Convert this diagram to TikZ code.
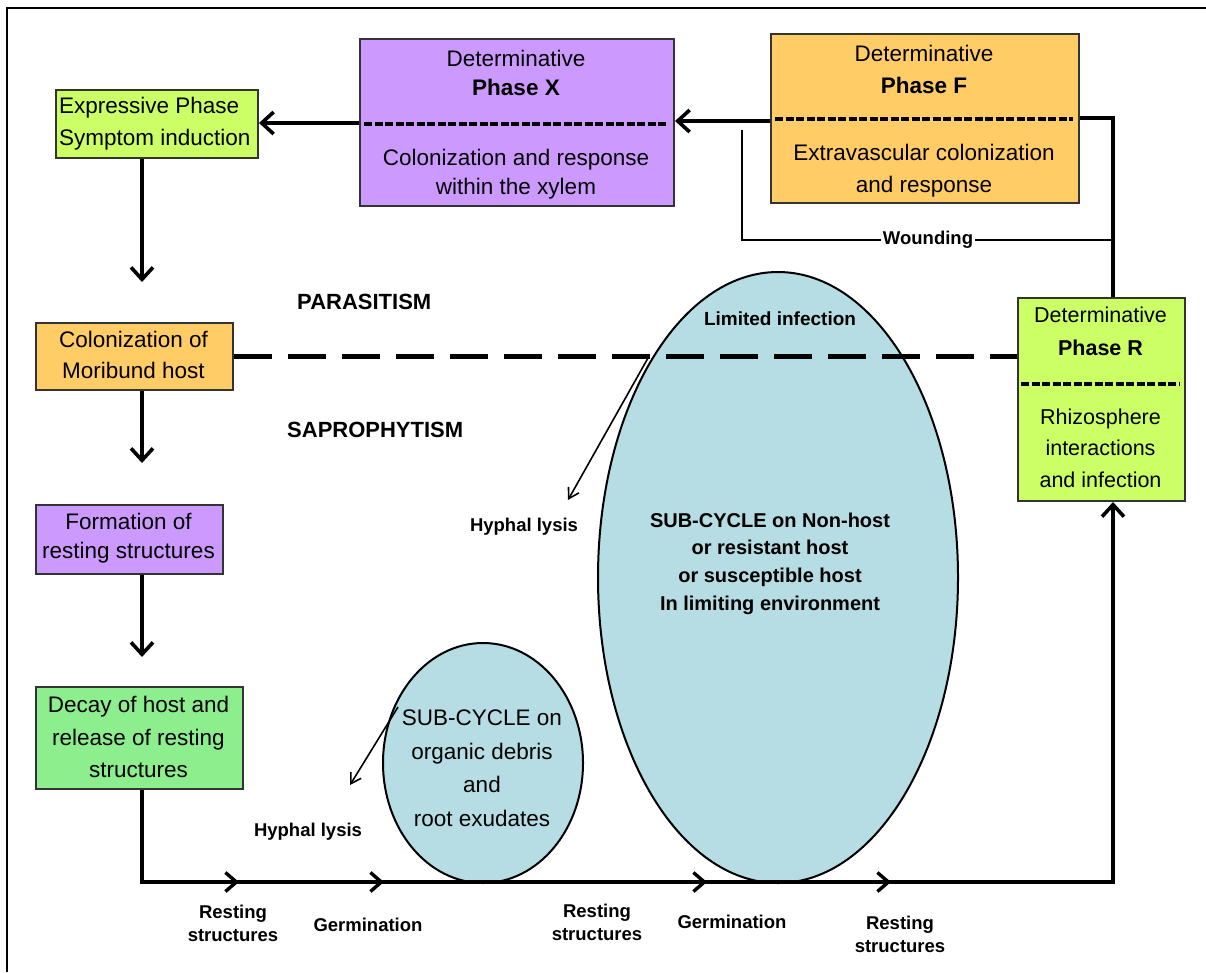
\documentclass[tikz,border=0pt]{standalone}
\usepackage{fontspec}
\setmainfont{Liberation Sans}
\usetikzlibrary{arrows.meta,shapes.geometric,decorations.markings}
\definecolor{ygreen}{HTML}{CCFF66}
\definecolor{lpurple}{HTML}{CC99FF}
\definecolor{lorange}{HTML}{FFCC66}
\definecolor{lgreen}{HTML}{8CEE8C}
\definecolor{lblue}{HTML}{B5DDE3}
\begin{document}
\begin{tikzpicture}[x=1pt,y=-1pt,
  box/.style={draw=black!80, line width=2pt, anchor=north west, inner sep=0pt},
  txt/.style={align=center, inner sep=0pt, font=\fontsize{22.5}{31}\selectfont},
  lbl/.style={align=center, inner sep=0pt, font=\bfseries\fontsize{18.5}{23.5}\selectfont},
  sep/.style={line width=3.2pt, dash pattern=on 8pt off 2.5pt},
  conn/.style={line width=3.6pt},
  arr/.style={conn, -{Straight Barb[length=12pt,width=22pt,line width=3.6pt]}},
  thinarr/.style={line width=1.6pt, -{Straight Barb[length=10pt,width=12pt,line width=1.6pt]}},
  ell/.style={ellipse, draw, line width=2pt, fill=lblue, inner sep=0pt},
  chev/.style={postaction={decorate}, decoration={markings,
     mark=at position 189pt with {\arrow{Straight Barb[length=11pt,width=19pt,line width=3.4pt]}},
     mark=at position 334pt with {\arrow{Straight Barb[length=11pt,width=19pt,line width=3.4pt]}},
     mark=at position 657pt with {\arrow{Straight Barb[length=11pt,width=19pt,line width=3.4pt]}},
     mark=at position 841pt with {\arrow{Straight Barb[length=11pt,width=19pt,line width=3.4pt]}}}},
]
\useasboundingbox (0,0) rectangle (1206,972);
\fill[white] (0,0) rectangle (1206,972);
% frame
\draw[line width=2.6pt] (7,972) -- (7,8) -- (1206,8);

% helper coordinates
\coordinate (xcol) at (142,0);
\coordinate (rx) at (1113,0);
\coordinate (base) at (0,882);
\coordinate (yFX) at (0,121);
\coordinate (yXE) at (0,123);
\coordinate (yFR) at (0,118);
\coordinate (w1) at (742,130);
\coordinate (w2) at (1113,240);

% ellipses
\node[ell, minimum width=360pt, minimum height=611pt] (bigE) at (778,577.5) {};
\node[ell, minimum width=200pt, minimum height=240pt] (smallE) at (483,763) {};

% boxes
\node[box, fill=ygreen, minimum width=202pt, minimum height=68pt] (expr) at (55,89) {};
\node[box, fill=lpurple, minimum width=314pt, minimum height=167pt] (phaseX) at (359,38) {};
\node[box, fill=lorange, minimum width=308pt, minimum height=169pt] (phaseF) at (770,33) {};
\node[box, fill=ygreen, minimum width=167pt, minimum height=203pt] (phaseR) at (1017,297) {};
\node[box, fill=lorange, minimum width=197pt, minimum height=67pt] (morib) at (35,322) {};
\node[box, fill=lpurple, minimum width=187pt, minimum height=69pt] (form) at (35,504) {};
\node[box, fill=lgreen, minimum width=207pt, minimum height=102pt] (decay) at (35,686) {};

% box texts
\node[txt, anchor=west, align=left, font=\fontsize{22.5}{32}\selectfont] (exprT) at (59,124) {Expressive Phase\\Symptom induction};
\node[txt, font=\fontsize{22.5}{29}\selectfont] (phaseXa) at (516,72.5) {Determinative\\\textbf{Phase X}};
\draw[sep] (364,124) -- (668,124);
\node[txt, font=\fontsize{22.5}{29}\selectfont] (phaseXb) at (516,174) {Colonization and response\\within the xylem};
\node[txt, font=\fontsize{22.5}{32}\selectfont] (phaseFa) at (924,69) {Determinative\\\textbf{Phase F}};
\draw[sep] (775,119) -- (1073,119);
\node[txt, font=\fontsize{22.5}{32}\selectfont] (phaseFb) at (924,171) {Extravascular colonization\\and response};
\node[txt, font=\fontsize{21.5}{33}\selectfont] (phaseRa) at (1100.5,331.5) {Determinative\\\textbf{Phase R}};
\draw[sep] (1021,384) -- (1180,384);
\node[txt, font=\fontsize{21.5}{31.5}\selectfont] (phaseRb) at (1100.5,448) {Rhizosphere\\interactions\\and infection};
\node[txt, font=\fontsize{22.5}{31}\selectfont] (moribT) at (133.5,355) {Colonization of\\Moribund host};
\node[txt, font=\fontsize{22.5}{29}\selectfont] (formT) at (128.5,538) {Formation of\\resting structures};
\node[txt, font=\fontsize{22.5}{32.5}\selectfont] (decayT) at (138.5,737) {Decay of host and\\release of resting\\structures};

% ellipse texts
\node[txt, font=\fontsize{22.5}{33.5}\selectfont] (smallT) at (482,768) {SUB-CYCLE on\\organic debris\\and\\root exudates};
\node[txt, font=\bfseries\fontsize{20}{27.7}\selectfont] (bigT) at (770,563.5) {SUB-CYCLE on Non-host\\or resistant host\\or susceptible host\\In limiting environment};
\node[lbl, font=\bfseries\fontsize{19}{23}\selectfont] (limited) at (780,319) {Limited infection};

% region labels
\node[lbl, anchor=west, font=\bfseries\fontsize{22}{26}\selectfont] (para) at (297,302) {PARASITISM};
\node[lbl, anchor=west, font=\bfseries\fontsize{22}{26}\selectfont] (sapro) at (287,430) {SAPROPHYTISM};

% dashed boundary
\draw[line width=5.5pt, dash pattern=on 38pt off 16pt] (morib.east) -- (phaseR.west |- morib.east);

% main connectors
\draw[arr] (phaseF.west |- yFX) -- (phaseX.east |- yFX);
\draw[arr] (phaseX.west |- yXE) -- (expr.east |- yXE);
\draw[arr, shorten >=40pt] (expr.south -| xcol) -- (morib.north -| xcol);
\draw[arr, shorten >=41pt] (morib.south -| xcol) -- (form.north -| xcol);
\draw[arr, shorten >=29pt] (form.south -| xcol) -- (decay.north -| xcol);
\draw[conn] (phaseF.east |- yFR) -- (rx |- yFR) -- (phaseR.north -| rx);
\draw[line width=2.4pt] (w1) |- (w2);
\node[lbl, fill=white, inner sep=2pt] (wound) at (928,240) {Wounding};
\draw[arr, chev] (decay.south -| xcol) -- (base -| xcol) -- (base -| rx) -- (phaseR.south -| rx);

% hyphal lysis
\coordinate (h1s) at (648,358);
\coordinate (h1e) at (568,500);
\coordinate (h2s) at (398,707);
\coordinate (h2e) at (350,785);
\draw[thinarr] (h1s) -- (h1e);
\draw[thinarr] (h2s) -- (h2e);
\node[lbl] (lysis1) at (524,527) {Hyphal lysis};
\node[lbl] (lysis2) at (308,832) {Hyphal lysis};

% bottom labels
\node[lbl] (rest1) at (233,923.5) {Resting\\structures};
\node[lbl] (germ1) at (368,925) {Germination};
\node[lbl] (rest2) at (597,922.5) {Resting\\structures};
\node[lbl] (germ2) at (732,922) {Germination};
\node[lbl] (rest3) at (900,934.5) {Resting\\structures};
\end{tikzpicture}
\end{document}
